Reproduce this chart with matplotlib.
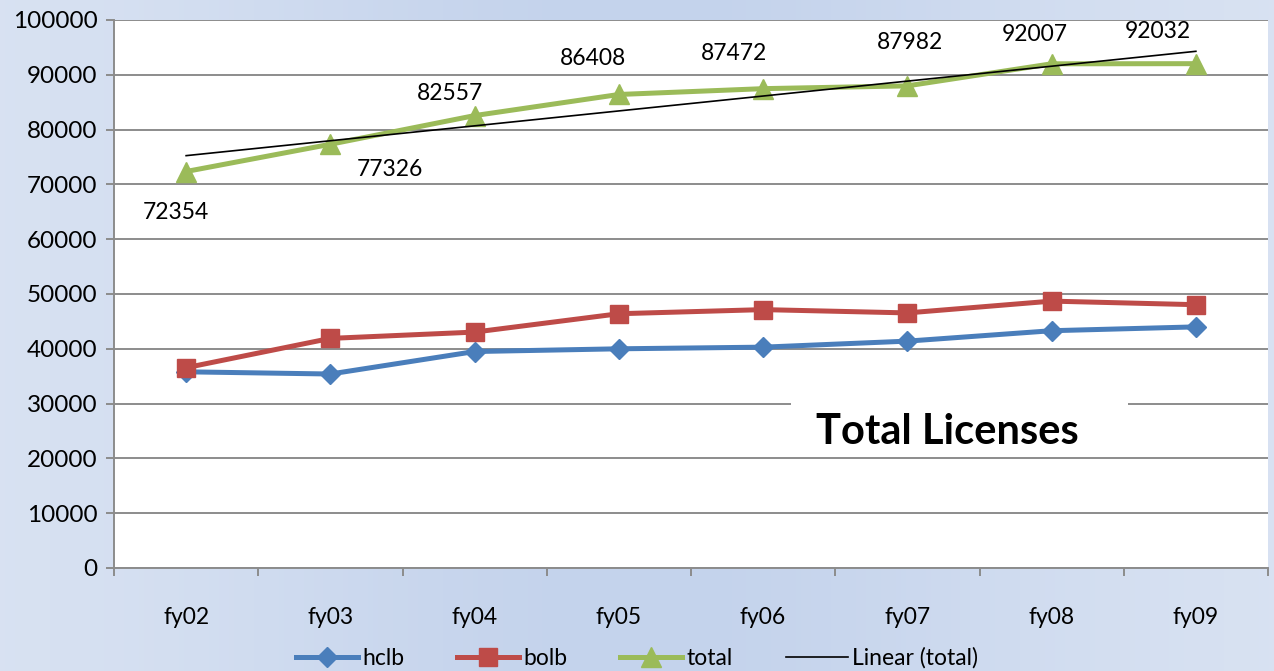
import numpy as np
import matplotlib
matplotlib.use('agg')
from matplotlib import pyplot as plt
from matplotlib.patches import Rectangle

years = ['fy02', 'fy03', 'fy04', 'fy05', 'fy06', 'fy07', 'fy08', 'fy09']
hclb = [35800, 35400, 39500, 40000, 40300, 41400, 43300, 44000]
bolb = [36550, 41900, 43050, 46400, 47150, 46550, 48700, 48050]
total = [72354, 77326, 82557, 86408, 87472, 87982, 92007, 92032]
y_ticks = [0, 10000, 20000, 30000, 40000, 50000, 60000, 70000, 80000, 90000, 100000]

# where excel dropped each data label, offset from the point in pixels
label_dx = [-10, 60, -25, -26, -29, 3, -17, -38]
label_dy = [-41, -25, 22, 36, 35, 43, 29, 32]

font = {
    'family': 'Lato',
    'size': 16.5
}
matplotlib.rc('font', **font)

fig = plt.figure(figsize=(12.74, 6.71), dpi=100)

# gradient background
bg = fig.add_axes([0, 0, 1, 1], zorder=-10)
t = np.linspace(0, 1, 256)
prof = 1 - np.exp(-((t - 0.5) / 0.35) ** 2)
c_edge = np.array([219, 228, 243]) / 255.
c_mid = np.array([196, 211, 236]) / 255.
grad = c_mid[None, :] + (c_edge - c_mid)[None, :] * prof[:, None]
bg.imshow(grad[None, :, :], aspect='auto', extent=(0, 1, 0, 1))
bg.axis('off')

ax = fig.add_axes([114 / 1274, 1 - 568 / 671, 1154 / 1274, 548 / 671])
ax.set_facecolor('white')

x = np.arange(len(years))

ax.plot(x, hclb, color='#4a7ebb', lw=3.6, marker='D', ms=10, label='hclb', zorder=3)
ax.plot(x, bolb, color='#be4b48', lw=3.6, marker='s', ms=13, label='bolb', zorder=3)
ax.plot(x, total, color='#9bbb59', lw=3.6, marker='^', ms=14, label='total', zorder=3)

# linear trend of total
k, b = np.polyfit(x, total, 1)
ax.plot(x[[0, -1]], k * x[[0, -1]] + b, color='black', lw=1.2, label='Linear (total)', zorder=4)

for i, v in enumerate(total):
    ax.annotate(str(v), (x[i], v), xytext=(label_dx[i] * 0.72, label_dy[i] * 0.72),
                textcoords='offset points', ha='center', va='center', fontsize=16.5)

ax.set_xlim(-0.5, 7.5)
ax.set_ylim(0, 100000)
ax.set_yticks(y_ticks)
ax.set_yticklabels([str(v) for v in y_ticks], fontsize=17.5)
ax.yaxis.grid(True, color='#8c8c8c', lw=1.4)
ax.set_axisbelow(True)

ax.set_xticks(np.arange(-0.5, 8.0, 1.0))
ax.set_xticklabels([])
ax.set_xticks(x, minor=True)
ax.set_xticklabels(years, minor=True, fontsize=16.5)
ax.tick_params(axis='x', which='major', length=6, width=1.4, color='#8c8c8c', direction='out')
ax.tick_params(axis='x', which='minor', length=0, pad=28)
ax.tick_params(axis='y', length=6, width=1.4, color='#8c8c8c', pad=6)

for side in ['top', 'right']:
    ax.spines[side].set_visible(False)
for side in ['left', 'bottom']:
    ax.spines[side].set_color('#8c8c8c')
    ax.spines[side].set_linewidth(1.4)

# title box sits on the plot area
ax.add_patch(Rectangle((4.19, 21500), 2.34, 9200, facecolor='white', edgecolor='none',
                       zorder=2.5))
ax.text(5.28, 24800, 'Total Licenses', ha='center', va='center', fontsize=30,
        fontweight='bold', zorder=5)

fig.legend(loc='center', bbox_to_anchor=(0.5, 1 - 658 / 671), ncol=4, frameon=False,
           fontsize=16.5, handlelength=2.7, columnspacing=2.3, handletextpad=0.2,
           borderaxespad=0)

plt.savefig('out.png', dpi=100)
plt.close()
